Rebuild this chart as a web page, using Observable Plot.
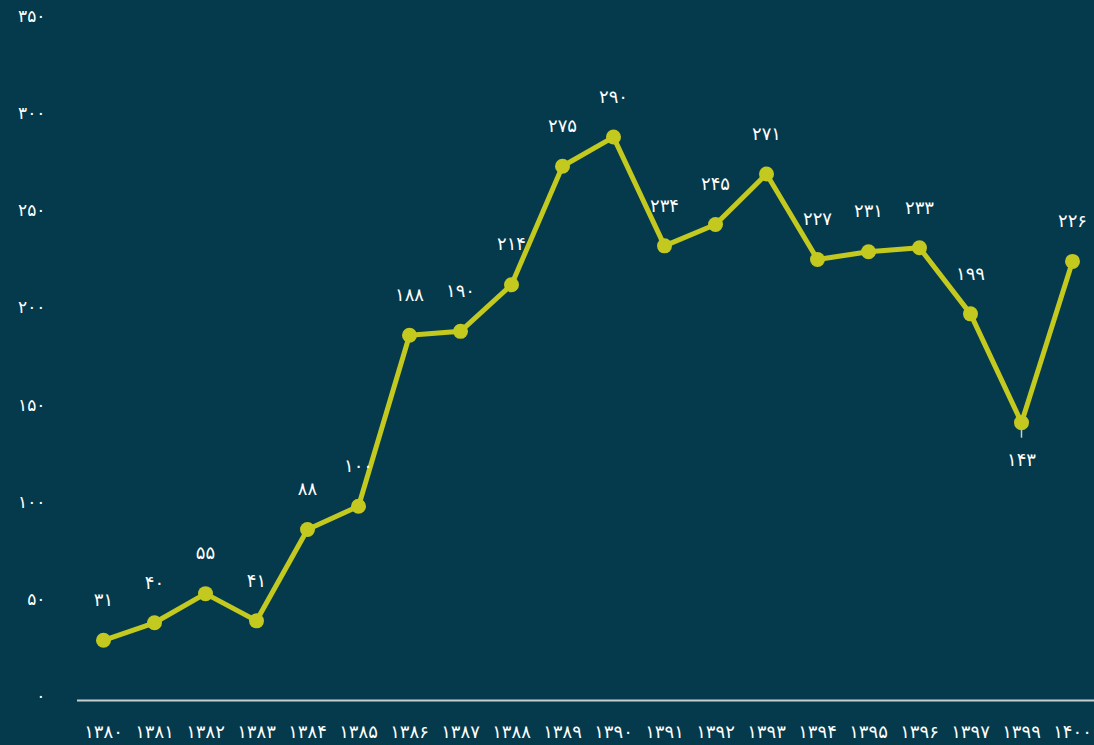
<!DOCTYPE html>
<html>
<head>
<meta charset="utf-8">
<script src="https://cdn.jsdelivr.net/npm/d3@7"></script>
<script src="https://cdn.jsdelivr.net/npm/@observablehq/plot@0.6"></script>
<style>
  html, body { margin: 0; padding: 0; background: #053a4c; }
  #chart { width: 1094px; height: 745px; overflow: hidden; }
  svg { display: block; }
</style>
</head>
<body>
<div id="chart"></div>
<script>
const years = ["1380","1381","1382","1383","1384","1385","1386","1387","1388","1389","1390","1391","1392","1393","1394","1395","1396","1397","1399","1400"];
const values = [31, 40, 55, 41, 88, 100, 188, 190, 214, 275, 290, 234, 245, 271, 227, 231, 233, 199, 143, 226];
const yTicks = [0, 50, 100, 150, 200, 250, 300, 350];
const labelBelow = ["1399"];

const fa = s => String(s).replace(/[0-9]/g, d => "۰۱۲۳۴۵۶۷۸۹"[+d]);
const data = years.map((y, i) => ({year: y, value: values[i]}));
const above = data.filter(d => !labelBelow.includes(d.year));
const below = data.filter(d => labelBelow.includes(d.year));

const bg = "#053a4c";
const lineColor = "#c3c91f";
const font = "'DejaVu Sans', sans-serif";

const chart = Plot.plot({
  width: 1094,
  height: 745,
  marginTop: 20,
  marginBottom: 45,
  marginLeft: 101,
  marginRight: 20,
  style: {background: bg, color: "#ffffff", fontFamily: font, fontSize: "17px"},
  x: {type: "point", domain: years, padding: 0, label: null},
  y: {domain: [0, 350], label: null},
  marks: [
    Plot.axisY({ticks: yTicks, tickSize: 0, tickPadding: 56, tickFormat: fa, fill: "#ffffff", fontSize: 17, dy: -4, label: null}),
    Plot.axisX({tickSize: 0, tickPadding: 25, tickFormat: fa, fill: "#ffffff", fontSize: 18, label: null}),
    Plot.ruleY([0], {stroke: "#c8cdd0", strokeWidth: 2, insetLeft: -24, insetRight: -20}),
    Plot.ruleX(below, {x: "year", y1: "value", y2: d => d.value - 8, stroke: "#c8cdd0", strokeWidth: 1.5}),
    Plot.line(data, {x: "year", y: "value", stroke: lineColor, strokeWidth: 5, strokeLinejoin: "round"}),
    Plot.dot(data, {x: "year", y: "value", r: 7.5, fill: lineColor, stroke: "none"}),
    Plot.text(above, {x: "year", y: "value", text: d => fa(d.value), dy: -40, fill: "#ffffff", fontSize: 18}),
    Plot.text(below, {x: "year", y: "value", text: d => fa(d.value), dy: 38, fill: "#ffffff", fontSize: 18})
  ]
});
document.getElementById("chart").appendChild(chart);
</script>
</body>
</html>
